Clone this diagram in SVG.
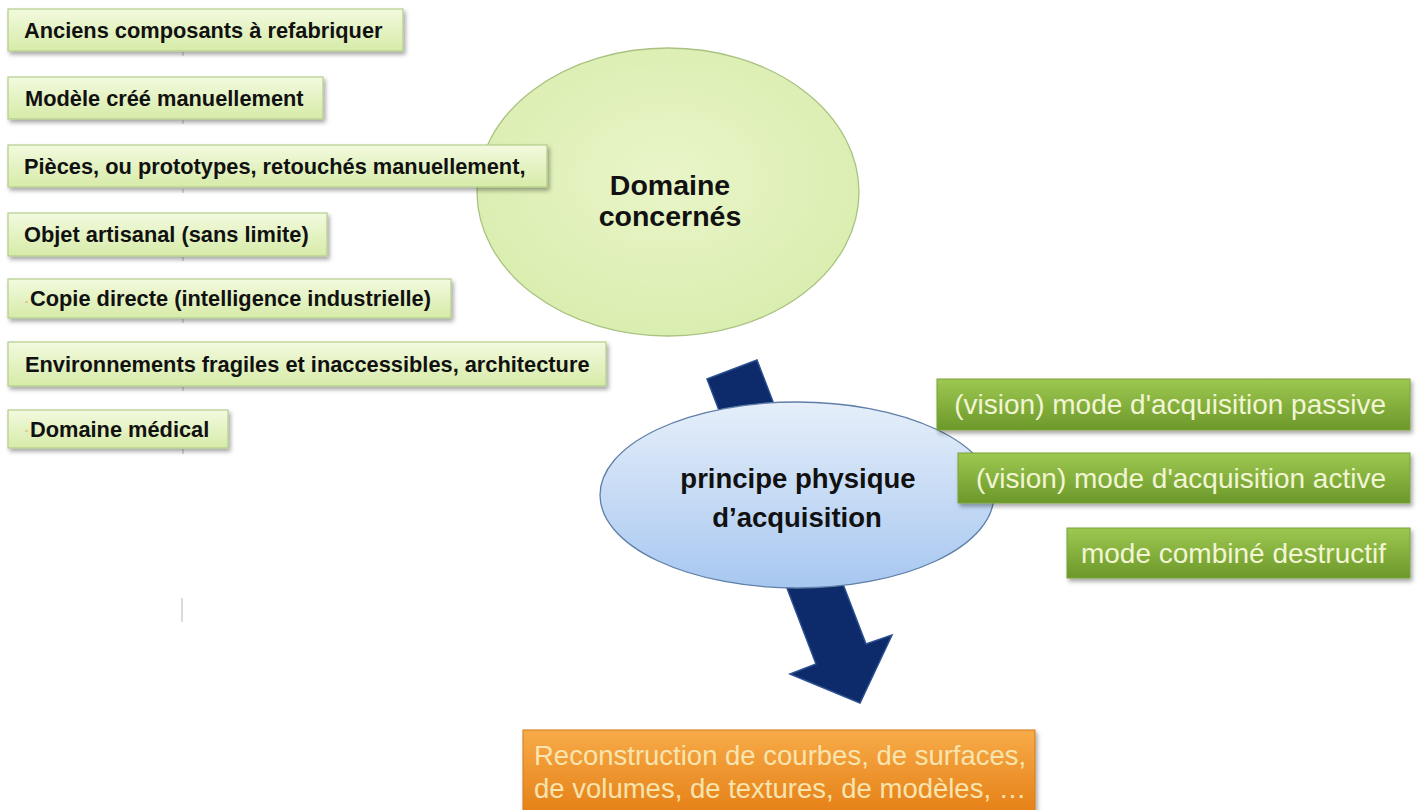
<svg xmlns="http://www.w3.org/2000/svg" width="1418" height="810" viewBox="0 0 1418 810">
  <defs>
    <linearGradient id="gLeft" x1="0" y1="0" x2="0" y2="1">
      <stop offset="0" stop-color="#f3fadf"/>
      <stop offset="1" stop-color="#d6eba8"/>
    </linearGradient>
    <radialGradient id="gCircle" cx="0.5" cy="0.45" r="0.6">
      <stop offset="0" stop-color="#e9f5c8"/>
      <stop offset="1" stop-color="#d9edae"/>
    </radialGradient>
    <linearGradient id="gBlue" x1="0" y1="0" x2="0" y2="1">
      <stop offset="0" stop-color="#e6effa"/>
      <stop offset="1" stop-color="#a7c7f0"/>
    </linearGradient>
    <linearGradient id="gGreen" x1="0" y1="0" x2="0" y2="1">
      <stop offset="0" stop-color="#9dc851"/>
      <stop offset="1" stop-color="#6c982a"/>
    </linearGradient>
    <linearGradient id="gOrange" x1="0" y1="0" x2="0" y2="1">
      <stop offset="0" stop-color="#f7ab48"/>
      <stop offset="1" stop-color="#e57f16"/>
    </linearGradient>
    <filter id="shadow" x="-10%" y="-20%" width="120%" height="160%">
      <feDropShadow dx="2" dy="3" stdDeviation="2" flood-color="#000" flood-opacity="0.35"/>
    </filter>
    <style>
      .lbox { fill: url(#gLeft); stroke: #b3cd8a; stroke-width: 1.2; filter: url(#shadow); }
      .ltxt { font-family: "Liberation Sans", Arial, sans-serif; font-weight: bold; font-size: 21.8px; fill: #111; }
      .gbox { fill: url(#gGreen); stroke: #7aa23a; stroke-width: 1; filter: url(#shadow); }
      .gtxt { font-family: "Liberation Sans", Arial, sans-serif; font-size: 28px; fill: #f2f5d4; text-anchor: end; }
      .ctxt { font-family: "Liberation Sans", Arial, sans-serif; font-weight: bold; fill: #111; text-anchor: middle; }
      .otxt { font-family: "Liberation Sans", Arial, sans-serif; font-size: 27.5px; fill: #f8e4ae; }
      .tick { stroke: #cfcfcf; stroke-width: 1.5; }
    </style>
  </defs>

  <rect width="1418" height="810" fill="#ffffff"/>

  <!-- faint residual ticks -->
  <g id="ticks">
    <line class="tick" x1="183" y1="52" x2="183" y2="56"/>
    <line class="tick" x1="183" y1="120" x2="183" y2="124"/>
    <line class="tick" x1="183" y1="189" x2="183" y2="193"/>
    <line class="tick" x1="183" y1="257" x2="183" y2="261"/>
    <line class="tick" x1="183" y1="319" x2="183" y2="323"/>
    <line class="tick" x1="183" y1="387" x2="183" y2="391"/>
    <line class="tick" x1="183" y1="449" x2="183" y2="454"/>
    <line class="tick" x1="182" y1="598" x2="182" y2="622" stroke="#d8d8d8"/>
  </g>

  <g id="node-domaine">
    <ellipse cx="668" cy="192" rx="191" ry="144" fill="url(#gCircle)" stroke="#a9c281" stroke-width="1.3"/>
    <text class="ctxt" x="670" y="195" font-size="28.5">Domaine</text>
    <text class="ctxt" x="670" y="226" font-size="28.5">concernés</text>
  </g>

  <g id="node-anciens">
    <rect class="lbox" x="8" y="9" width="395" height="42"/>
    <text class="ltxt" x="24" y="38">Anciens composants à refabriquer</text>
  </g>
  <g id="node-modele">
    <rect class="lbox" x="8" y="77" width="315" height="42"/>
    <text class="ltxt" x="25" y="106">Modèle créé manuellement</text>
  </g>
  <g id="node-pieces">
    <rect class="lbox" x="8" y="145" width="539" height="42"/>
    <text class="ltxt" x="24" y="174">Pièces, ou prototypes, retouchés manuellement,</text>
  </g>
  <g id="node-objet">
    <rect class="lbox" x="8" y="213" width="319" height="43"/>
    <text class="ltxt" x="24" y="242">Objet artisanal (sans limite)</text>
  </g>
  <g id="node-copie">
    <rect class="lbox" x="8" y="279" width="443" height="39"/>
    <line x1="25" y1="302" x2="28" y2="302" stroke="#e0a860" stroke-width="1"/>
    <text class="ltxt" x="30" y="306">Copie directe (intelligence industrielle)</text>
  </g>
  <g id="node-environnements">
    <rect class="lbox" x="8" y="342" width="598" height="44"/>
    <text class="ltxt" x="25" y="372">Environnements fragiles et inaccessibles, architecture</text>
  </g>
  <g id="node-medical">
    <rect class="lbox" x="8" y="410" width="220" height="38"/>
    <line x1="25" y1="431" x2="28" y2="431" stroke="#e0a860" stroke-width="1"/>
    <text class="ltxt" x="30" y="437">Domaine médical</text>
  </g>

  <g id="connectors">
    <polygon points="707,379 757,360 866,644 892,635 860,703 790,674 816,664" fill="#0d2b6a" stroke="#2b4f8f" stroke-width="1.5" stroke-linejoin="miter"/>
  </g>

  <g id="node-principe">
    <ellipse cx="797" cy="495" rx="197" ry="93" fill="url(#gBlue)" stroke="#5f7fa8" stroke-width="1.3"/>
    <text class="ctxt" x="798" y="488" font-size="27.5">principe physique</text>
    <text class="ctxt" x="797" y="527" font-size="27.5">d’acquisition</text>
  </g>

  <g id="node-passive">
    <rect class="gbox" x="937" y="379" width="473" height="51"/>
    <text class="gtxt" x="1386" y="414">(vision) mode d'acquisition passive</text>
  </g>
  <g id="node-active">
    <rect class="gbox" x="958" y="453" width="452" height="50"/>
    <text class="gtxt" x="1386" y="488">(vision) mode d'acquisition active</text>
  </g>
  <g id="node-destructif">
    <rect class="gbox" x="1067" y="528" width="343" height="50"/>
    <text class="gtxt" x="1386" y="563">mode combiné destructif</text>
  </g>

  <g id="node-reconstruction">
    <rect x="523" y="730" width="512" height="86" fill="url(#gOrange)" stroke="#d4781a" stroke-width="1" filter="url(#shadow)"/>
    <text class="otxt" x="534" y="765">Reconstruction de courbes, de surfaces,</text>
    <text class="otxt" x="534" y="798">de volumes, de textures, de modèles, …</text>
  </g>
</svg>
